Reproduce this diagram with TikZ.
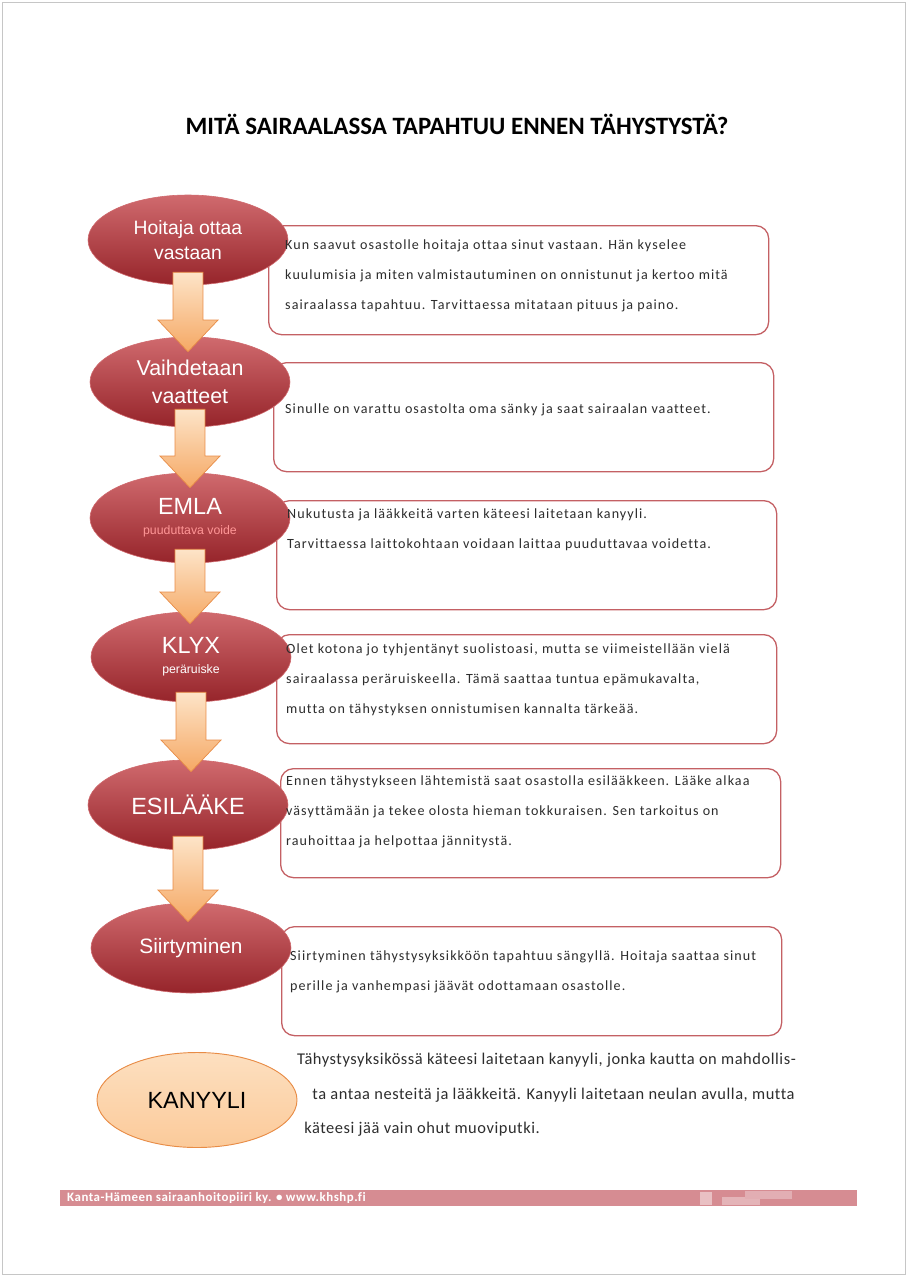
\documentclass[tikz,border=0pt]{standalone}
\usepackage{fontspec}
\setmainfont{Carlito}
\newfontfamily\arialfont{Liberation Sans}
\newfontfamily\boxfont[LetterSpace=7.5, Ligatures=NoCommon]{Carlito}
\newfontfamily\notefont[LetterSpace=3.5, Ligatures=NoCommon]{Carlito}
\newfontfamily\footfont[LetterSpace=4, Ligatures=NoCommon]{Carlito}
\usetikzlibrary{positioning, calc, shapes.geometric}
\definecolor{elldark}{RGB}{150,36,42}
\definecolor{elllight}{RGB}{208,106,110}
\definecolor{boxline}{RGB}{196,96,100}
\definecolor{arrlight}{RGB}{253,228,200}
\definecolor{arrorange}{RGB}{245,168,100}
\definecolor{arrline}{RGB}{232,140,70}
\definecolor{kanfill}{RGB}{252,206,160}
\definecolor{footred}{RGB}{214,140,146}
\definecolor{bodytext}{RGB}{45,45,45}
\definecolor{subred}{RGB}{255,150,150}

% block arrow pointing down from #1 to #2
\newcommand{\flowarrow}[2]{%
  \path[flowarr] let \p1=(#1), \p2=(#2) in
    (\x1-12.8pt,\y1) -- (\x1+12.8pt,\y1) -- (\x1+12.8pt,\y2+27pt)
    -- (\x1+25.6pt,\y2+27pt) -- (\x1,\y2) -- (\x1-25.6pt,\y2+27pt)
    -- (\x1-12.8pt,\y2+27pt) -- cycle;}

\begin{document}
\begin{tikzpicture}[
  x=0.03cm, y=-0.03cm,
  stepell/.style={ellipse, draw=elllight, line width=0.5pt, top color=elllight,
                  bottom color=elldark, text=white, align=center, inner sep=0pt,
                  minimum width=6cm, minimum height=2.7cm},
  infobox/.style={draw=boxline, line width=1.1pt, rounded corners=11pt, fill=white,
                  anchor=north west, minimum width=15cm, minimum height=3.27cm},
  boxtext/.style={anchor=north west, align=left, inner sep=0pt, text=bodytext,
                  font=\boxfont\fontsize{12}{26}\selectfont},
  flowarr/.style={draw=arrline, line width=0.6pt, top color=arrlight, bottom color=arrorange},
]
\useasboundingbox (0,0) rectangle (907,1276);
\draw[gray!45, line width=0.8pt] (2,2) rectangle (905,1274);

% title
\node[font=\bfseries\fontsize{21.3}{24}\selectfont] (title) at (457,124)
  {MITÄ SAIRAALASSA TAPAHTUU ENNEN TÄHYSTYSTÄ?};

% info boxes
\node[infobox] (b1) at (268,225) {};
\node[infobox] (b2) at (273,362) {};
\node[infobox] (b3) at (276,500) {};
\node[infobox] (b4) at (276,634) {};
\node[infobox] (b5) at (280,768) {};
\node[infobox] (b6) at (281,926) {};

% steps
\node[stepell, font=\arialfont\fontsize{16.5}{22}\selectfont] (h1) at (188,240)
  {Hoitaja ottaa\\vastaan};
\node[stepell, font=\arialfont\fontsize{18.3}{24}\selectfont] (h2) at (190,382)
  {Vaihdetaan\\vaatteet};
\node[stepell] (h3) at (190,518)
  {{\arialfont\fontsize{20}{22}\selectfont EMLA}\\[5pt]
   {\arialfont\fontsize{10.5}{10}\selectfont\color{subred}puuduttava voide}};
\node[stepell] (h4) at (191,657)
  {{\arialfont\fontsize{20}{22}\selectfont KLYX}\\[5pt]
   {\arialfont\fontsize{10.5}{10}\selectfont peräruiske}};
\node[stepell, font=\arialfont\fontsize{20}{22}\selectfont] (h5) at (188,805) {ESILÄÄKE};
\node[stepell, font=\arialfont\fontsize{17.8}{22}\selectfont] (h6) at (191,948) {Siirtyminen};
\node[ellipse, draw=arrline, line width=0.8pt, top color=arrlight!80!kanfill, bottom color=kanfill!90!arrorange,
      minimum width=6cm, minimum height=2.85cm, inner sep=0pt,
      font=\arialfont\fontsize{20}{22}\selectfont] (kan) at (197,1100) {KANYYLI};

% arrows between steps
\flowarrow{$(h1.south)+(0,-13)$}{$(h2.north)+(0,15)$}
\flowarrow{$(h2.south)+(0,-18)$}{$(h3.north)+(0,15)$}
\flowarrow{$(h3.south)+(0,-14)$}{$(h4.north)+(0,12)$}
\flowarrow{$(h4.south)+(0,-10)$}{$(h5.north)+(0,12)$}
\flowarrow{$(h5.south)+(0,-14)$}{$(h6.north)+(0,19)$}

% texts
\node[boxtext] (t1) at ($(b1.north west)+(17,14)$)
  {Kun saavut osastolle hoitaja ottaa sinut vastaan. Hän kyselee\\
   kuulumisia ja miten valmistautuminen on onnistunut ja kertoo mitä\\
   sairaalassa tapahtuu. Tarvittaessa mitataan pituus ja paino.};
\node[boxtext] (t2) at ($(b2.north west)+(12,41)$)
  {Sinulle on varattu osastolta oma sänky ja saat sairaalan vaatteet.};
\node[boxtext] (t3) at ($(b3.north west)+(11,8)$)
  {Nukutusta ja lääkkeitä varten käteesi laitetaan kanyyli.\\
   Tarvittaessa laittokohtaan voidaan laittaa puuduttavaa voidetta.};
\node[boxtext] (t4) at ($(b4.north west)+(10,9)$)
  {Olet kotona jo tyhjentänyt suolistoasi, mutta se viimeistellään vielä\\
   sairaalassa peräruiskeella. Tämä saattaa tuntua epämukavalta,\\
   mutta on tähystyksen onnistumisen kannalta tärkeää.};
\node[boxtext] (t5) at ($(b5.north west)+(6,7)$)
  {Ennen tähystykseen lähtemistä saat osastolla esilääkkeen. Lääke alkaa\\
   väsyttämään ja tekee olosta hieman tokkuraisen. Sen tarkoitus on\\
   rauhoittaa ja helpottaa jännitystä.};
\node[boxtext] (t6) at ($(b6.north west)+(9,24)$)
  {Siirtyminen tähystysyksikköön tapahtuu sängyllä. Hoitaja saattaa sinut\\
   perille ja vanhempasi jäävät odottamaan osastolle.};
\node[boxtext, font=\notefont\fontsize{14}{29.5}\selectfont] (t7) at (297,1053)
  {Tähystysyksikössä käteesi laitetaan kanyyli, jonka kautta on mahdollis-\\
   \hspace*{13pt}ta antaa nesteitä ja lääkkeitä. Kanyyli laitetaan neulan avulla, mutta\\
   \hspace*{6pt}käteesi jää vain ohut muoviputki.};

% footer
\fill[footred] (60,1190) rectangle (857,1206);
\fill[footred!55!white] (700,1192) rectangle (712,1205);
\fill[footred!65!white] (722,1197) rectangle (760,1205);
\fill[footred!70!white] (745,1191) rectangle (792,1199);
\node[anchor=west, inner sep=0pt, text=white, font=\footfont\bfseries\fontsize{11}{12}\selectfont] (foot)
  at (67,1198) {Kanta-Hämeen sairaanhoitopiiri ky. • www.khshp.fi};
\end{tikzpicture}
\end{document}
